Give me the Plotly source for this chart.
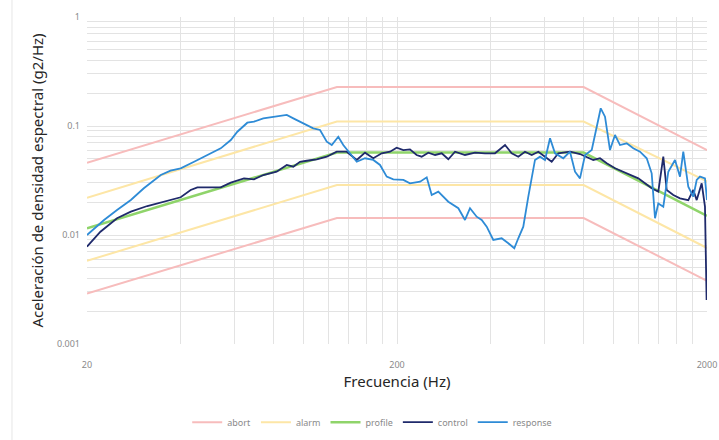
import plotly.graph_objects as go

# ---- data ----
limit_freq = [20, 128, 800, 2000]
abort_hi = [0.046, 0.228, 0.228, 0.060]
abort_lo = [0.0029, 0.0143, 0.0143, 0.0038]
alarm_hi = [0.022, 0.11, 0.11, 0.031]
alarm_lo = [0.0058, 0.0287, 0.0287, 0.0076]
profile_vals = [0.0115, 0.057, 0.057, 0.015]

control_freq = [20, 22.1, 25.0, 27.7, 31.3, 35.4, 40.1, 43.2, 45.4, 50.1, 54.0, 58.2, 64.2, 69.1,
                74.1, 81.8, 88.2, 92.6, 97.3, 102.3, 110.2, 118.7, 127.8, 137.7, 148.3, 157.7,
                167.7, 178.5, 189.9, 199.5, 209.7, 220.2, 231.4, 240.2, 252.4, 265.4, 278.8,
                292.8, 307.8, 331.4, 357.0, 384.4, 414.2, 446.2, 468.8, 492.4, 517.4, 544.0,
                571.4, 600.4, 631.0, 662.8, 723.0, 778.6, 838.8, 859.6, 903.4, 949.6, 1009.8,
                1074, 1128.8, 1200.6, 1262, 1326.2, 1393, 1445.6, 1482.6, 1557.4, 1636.6,
                1740.6, 1806.4, 1852.8, 1922.8, 1970.2, 1994]
control_vals = [0.00781, 0.01072, 0.01423, 0.01636, 0.01845, 0.0202, 0.0222, 0.0259, 0.0274,
                0.0274, 0.0274, 0.0302, 0.0331, 0.0324, 0.0355, 0.0381, 0.0439, 0.0423, 0.0470,
                0.0480, 0.0495, 0.0523, 0.0581, 0.0581, 0.0488, 0.0569, 0.0506, 0.0562, 0.0581,
                0.0632, 0.0602, 0.0611, 0.0542, 0.0523, 0.0569, 0.0542, 0.0562, 0.0495, 0.0581,
                0.0542, 0.0569, 0.0562, 0.0562, 0.0669, 0.0562, 0.0523, 0.0581, 0.0542, 0.0581,
                0.0523, 0.0470, 0.0562, 0.0581, 0.0553, 0.0506, 0.0488, 0.0506, 0.0455, 0.0409,
                0.0381, 0.0355, 0.0331, 0.0298, 0.0268, 0.0250, 0.0523, 0.0259, 0.0233, 0.0217,
                0.0209, 0.0259, 0.0209, 0.0298, 0.0182, 0.00253]

response_freq = [20, 22.7, 25.0, 27.7, 30.5, 34.6, 37.2, 40.1, 44.3, 50.1, 54.0, 58.2, 61.1, 65.8,
                 69.1, 74.1, 79.8, 88.2, 92.6, 99.7, 107.4, 112.9, 118.7, 123.2, 129.3, 134.2,
                 141.1, 148.3, 157.7, 167.7, 176.3, 185.3, 194.6, 209.7, 220.2, 237.4, 249.4,
                 258.8, 271.8, 292.8, 315.4, 331.4, 344.0, 361.4, 375.2, 389.4, 409.0, 435.2,
                 457.2, 478.0, 492.4, 511.0, 530.4, 557.4, 578.6, 600.4, 623.2, 646.8, 688.0,
                 723.0, 750.4, 778.6, 808.4, 849.6, 881.8, 908.2, 937.6, 973.0, 1009.8, 1048.2,
                 1101.6, 1156.8, 1215.8, 1278.0, 1326.2, 1359.4, 1393.0, 1445.6, 1500.4, 1577.0,
                 1636.6, 1677.0, 1740.6, 1806.4, 1852.8, 1898.6, 1970.2, 2000]
response_vals = [0.0100, 0.01374, 0.01695, 0.02094, 0.02682, 0.0355, 0.0389, 0.0409, 0.0470,
                 0.0562, 0.0624, 0.0744, 0.0886, 0.1072, 0.1095, 0.1176, 0.1217, 0.1262, 0.1176,
                 0.1059, 0.0952, 0.0919, 0.0718, 0.0669, 0.0797, 0.0669, 0.0562, 0.0470, 0.0506,
                 0.0488, 0.0439, 0.0343, 0.0324, 0.0320, 0.0298, 0.0308, 0.0338, 0.0233, 0.0250,
                 0.0202, 0.0176, 0.01374, 0.0176, 0.01472, 0.01374, 0.01192, 0.0090, 0.00933,
                 0.00839, 0.00755, 0.00933, 0.01192, 0.02245, 0.0488, 0.0523, 0.0488, 0.0771,
                 0.0562, 0.0506, 0.0581, 0.0381, 0.0331, 0.0542, 0.0602, 0.0985, 0.1453, 0.1217,
                 0.0602, 0.0827, 0.0669, 0.0694, 0.0624, 0.0581, 0.0506, 0.0368, 0.01423, 0.0195,
                 0.0182, 0.0381, 0.0488, 0.0343, 0.0581, 0.0277, 0.02245, 0.0320, 0.0343, 0.0331,
                 0.0209]

x_ticks = [20, 40, 60, 80, 100, 120, 140, 160, 180, 200, 400, 600, 800, 1000, 1200, 1400,
           1600, 1800, 2000]
x_labels = {20: "20", 200: "200", 2000: "2000"}
y_ticks = [m * 10 ** e for e in (-3, -2, -1) for m in range(1, 10)] + [1]
y_labels = {0.001: "0.001", 0.01: "0.01", 0.1: "0.1", 1: "1"}

# ---- styles ----
C_ABORT = "#f7bcbc"
C_ALARM = "#fde6a6"
C_PROFILE = "#8fd46a"
C_CONTROL = "#1f2a6b"
C_RESPONSE = "#2e8bd6"

fig = go.Figure()
fig.add_trace(go.Scatter(x=limit_freq, y=abort_hi, mode="lines", name="abort",
                         legendgroup="abort", line=dict(color=C_ABORT, width=2)))
fig.add_trace(go.Scatter(x=limit_freq, y=abort_lo, mode="lines", name="abort",
                         legendgroup="abort", showlegend=False, line=dict(color=C_ABORT, width=2)))
fig.add_trace(go.Scatter(x=limit_freq, y=alarm_hi, mode="lines", name="alarm",
                         legendgroup="alarm", line=dict(color=C_ALARM, width=2)))
fig.add_trace(go.Scatter(x=limit_freq, y=alarm_lo, mode="lines", name="alarm",
                         legendgroup="alarm", showlegend=False, line=dict(color=C_ALARM, width=2)))
fig.add_trace(go.Scatter(x=limit_freq, y=profile_vals, mode="lines", name="profile",
                         line=dict(color=C_PROFILE, width=2.5)))
fig.add_trace(go.Scatter(x=control_freq, y=control_vals, mode="lines", name="control",
                         line=dict(color=C_CONTROL, width=1.8)))
fig.add_trace(go.Scatter(x=response_freq, y=response_vals, mode="lines", name="response",
                         line=dict(color=C_RESPONSE, width=1.8)))

grid = "#e3e3e3"
tick_font = dict(family="Noto Sans", size=9, color="#8a8a8a")
fig.update_xaxes(type="log", range=[1.30103, 3.30103], tickvals=x_ticks,
                 ticktext=[x_labels.get(v, "") for v in x_ticks],
                 showgrid=True, gridcolor=grid, gridwidth=1.3, zeroline=False, automargin=False,
                 showline=False, ticks="", tickfont=tick_font, ticklabelstandoff=14,
                 title=dict(text="Frecuencia (Hz)", font=dict(family="Noto Sans", size=15, color="#262626"),
                            standoff=5))
fig.update_yaxes(type="log", range=[-3, 0], tickvals=y_ticks,
                 ticktext=[next((t for k, t in y_labels.items() if abs(k - v) < 1e-12), "") for v in y_ticks],
                 showgrid=True, gridcolor=grid, gridwidth=1.3, zeroline=False, automargin=False,
                 showline=False, ticks="", tickfont=tick_font, ticklabelstandoff=6,
                 title=dict(text="Aceleración de densidad espectral (g2/Hz)",
                            font=dict(family="Noto Sans", size=15, color="#262626"), standoff=9))

fig.add_shape(type="line", xref="paper", yref="paper", x0=-0.121, x1=-0.121, y0=-0.3, y1=1.06,
              line=dict(color="#e6e6e6", width=1))

fig.update_layout(
    width=719, height=440,
    margin=dict(l=87, r=12, t=17, b=96, autoexpand=False),
    paper_bgcolor="white", plot_bgcolor="white",
    showlegend=True,
    legend=dict(orientation="h", x=0.46, xanchor="center", y=-0.239, yanchor="middle",
                font=dict(family="Noto Sans", size=9, color="#8a8a8a"),
                itemwidth=30, tracegroupgap=0),
)

fig.write_html("out.html")
